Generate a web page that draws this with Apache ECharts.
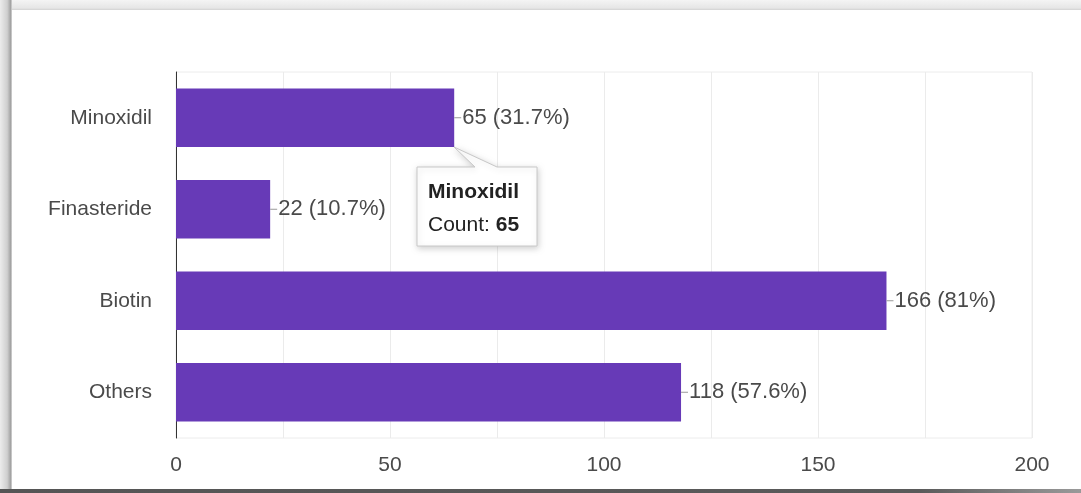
<!DOCTYPE html>
<html>
<head>
<meta charset="utf-8">
<script src="https://cdn.jsdelivr.net/npm/echarts@6/dist/echarts.min.js"></script>
<style>
  html, body { margin: 0; padding: 0; background: #ffffff; }
  #chart { width: 1081px; height: 493px; }
</style>
</head>
<body>
<div id="chart"></div>
<script>
// Responses per treatment
const categories = ['Minoxidil', 'Finasteride', 'Biotin', 'Others'];
const counts = [65, 22, 166, 118];
const percents = ['31.7', '10.7', '81', '57.6'];
const xTicks = [0, 50, 100, 150, 200];

// Tooltip shown for the highlighted bar
const tipIndex = 0;

const FONT = '"Liberation Sans", Arial, sans-serif';
const PURPLE = '#673ab7';

const chart = echarts.init(document.getElementById('chart'), null, { renderer: 'canvas' });

const option = {
  animation: false,
  backgroundColor: '#ffffff',
  textStyle: { fontFamily: FONT },
  grid: {
    left: 176, right: 49, top: 72, bottom: 55,
    show: true, borderColor: '#ececec', borderWidth: 1, backgroundColor: 'transparent'
  },
  xAxis: {
    type: 'value',
    min: xTicks[0],
    max: xTicks[xTicks.length - 1],
    interval: xTicks[1] - xTicks[0],
    axisLine: { show: false },
    axisTick: { show: false },
    minorTick: { show: false, splitNumber: 2 },
    splitLine: { show: true, lineStyle: { color: '#ebebeb', width: 1 } },
    minorSplitLine: { show: true, lineStyle: { color: '#ebebeb', width: 1 } },
    axisLabel: { color: '#4a4a4a', fontSize: 21, margin: 17, fontFamily: FONT }
  },
  yAxis: {
    type: 'category',
    data: categories,
    inverse: true,
    axisLine: { show: true, lineStyle: { color: '#333', width: 1 } },
    axisTick: { show: false },
    splitLine: { show: false },
    axisLabel: { color: '#4a4a4a', fontSize: 21, margin: 24, fontFamily: FONT }
  },
  series: [{
    type: 'bar',
    data: counts,
    barCategoryGap: '36%',
    itemStyle: { color: PURPLE },
    label: {
      show: true,
      position: 'right',
      distance: 0,
      formatter: (p) => '{ln|}{t|' + counts[p.dataIndex] + ' (' + percents[p.dataIndex] + '%)}',
      rich: {
        ln: { width: 7, height: 1, backgroundColor: '#999' },
        t: { color: '#4a4a4a', fontSize: 22, fontFamily: FONT, padding: [0, 0, 0, 1] }
      }
    }
  }]
};

chart.setOption(option);

// Frame around the card
const W = 1081, H = 493;
const frame = [
  {
    type: 'rect', silent: true, z: 100,
    shape: { x: 0, y: 0, width: W, height: 10 },
    style: { fill: new echarts.graphic.LinearGradient(0, 0, 0, 1, [
      { offset: 0, color: '#f4f4f4' }, { offset: 0.8, color: '#e6e6e6' }, { offset: 1, color: '#d2d2d2' }
    ]) }
  },
  {
    type: 'rect', silent: true, z: 101,
    shape: { x: 0, y: 0, width: 12, height: H },
    style: { fill: new echarts.graphic.LinearGradient(0, 0, 1, 0, [
      { offset: 0, color: '#ececec' }, { offset: 0.6, color: '#cfcfcf' }, { offset: 0.9, color: '#a0a0a0' }, { offset: 1, color: '#e0e0e0' }
    ]) }
  },
  {
    type: 'rect', silent: true, z: 102,
    shape: { x: 0, y: H - 4, width: W, height: 4 },
    style: { fill: new echarts.graphic.LinearGradient(0, 0, 1, 0, [
      { offset: 0, color: '#555' }, { offset: 0.85, color: '#5a5a5a' }, { offset: 1, color: '#9a9a9a' }
    ]) }
  }
];

// Callout tooltip anchored at the bottom-right corner of the highlighted bar
const end = chart.convertToPixel({ xAxisIndex: 0, yAxisIndex: 0 }, [counts[tipIndex], tipIndex]);
const bandH = chart.getModel().getComponent('yAxis').axis.getBandWidth();
const barH = bandH * (1 - 0.36);
const ax = Math.round(end[0]);
const ay = Math.round(end[1] + barH / 2);
const bx = ax - 37, by = ay + 20, bw = 120, bh = 79;
const tail0 = ax + 21, tail1 = ax + 43;

const tip = [
  {
    type: 'polygon', silent: true, z: 200,
    shape: { points: [
      [bx, by], [tail0, by], [ax, ay], [tail1, by], [bx + bw, by], [bx + bw, by + bh], [bx, by + bh]
    ] },
    style: {
      fill: '#ffffff', stroke: '#c8c8c8', lineWidth: 1,
      shadowBlur: 6, shadowColor: 'rgba(0,0,0,0.18)', shadowOffsetX: 1, shadowOffsetY: 2
    }
  },
  {
    type: 'text', silent: true, z: 201,
    x: bx + 11, y: by + 25,
    style: {
      text: categories[tipIndex], fill: '#222', font: 'bold 21px ' + FONT,
      verticalAlign: 'middle'
    }
  },
  {
    type: 'text', silent: true, z: 201,
    x: bx + 11, y: by + 58,
    style: {
      text: '{n|Count: }{b|' + counts[tipIndex] + '}',
      verticalAlign: 'middle',
      rich: {
        n: { fill: '#222', fontSize: 21, fontFamily: FONT },
        b: { fill: '#222', fontSize: 21, fontWeight: 'bold', fontFamily: FONT }
      }
    }
  }
];

chart.setOption({ graphic: { elements: frame.concat(tip) } });
</script>
</body>
</html>
